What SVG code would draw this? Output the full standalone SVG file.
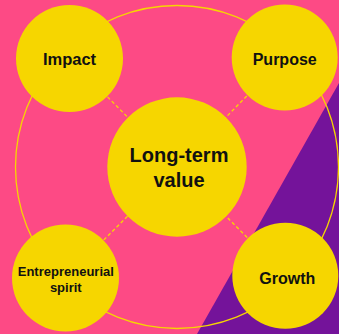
<svg xmlns="http://www.w3.org/2000/svg" width="339" height="334" viewBox="0 0 339 334">
  <style>
    .node { fill: #F6D600; }
    .lbl { font-family: "Liberation Sans", Arial, sans-serif; font-weight: bold; fill: #111111; text-anchor: middle; }
    .conn { stroke: #F6D600; stroke-width: 1.3; stroke-dasharray: 3.5 2.5; fill: none; }
  </style>
  <rect x="0" y="0" width="339" height="334" fill="#FD4A85"/>
  <polygon points="339,83 339,334 197,334" fill="#74139A"/>
  <circle cx="177" cy="167" r="161.5" fill="none" stroke="#F6D600" stroke-width="1.3"/>
  <g id="connectors">
    <line class="conn" x1="69.5" y1="58.5" x2="177" y2="167"/>
    <line class="conn" x1="284.7" y1="57.5" x2="177" y2="167"/>
    <line class="conn" x1="65.5" y1="278" x2="177" y2="167"/>
    <line class="conn" x1="285.3" y1="275.7" x2="177" y2="167"/>
  </g>
  <g id="center">
    <circle class="node" cx="177" cy="167" r="69.7"/>
    <text class="lbl" x="179" y="162" font-size="20">Long-term</text>
    <text class="lbl" x="179" y="187" font-size="20">value</text>
  </g>
  <g id="impact">
    <circle class="node" cx="69.5" cy="58.5" r="53.5"/>
    <text class="lbl" x="69.5" y="65" font-size="16.5">Impact</text>
  </g>
  <g id="purpose">
    <circle class="node" cx="284.7" cy="57.5" r="53"/>
    <text class="lbl" x="284.7" y="65" font-size="16">Purpose</text>
  </g>
  <g id="entrepreneurial">
    <circle class="node" cx="65.5" cy="278" r="53.5"/>
    <text class="lbl" x="65.8" y="276" font-size="13">Entrepreneurial</text>
    <text class="lbl" x="65.8" y="291.5" font-size="13">spirit</text>
  </g>
  <g id="growth">
    <circle class="node" cx="285.3" cy="275.7" r="53"/>
    <text class="lbl" x="287.3" y="283.7" font-size="16">Growth</text>
  </g>
</svg>
